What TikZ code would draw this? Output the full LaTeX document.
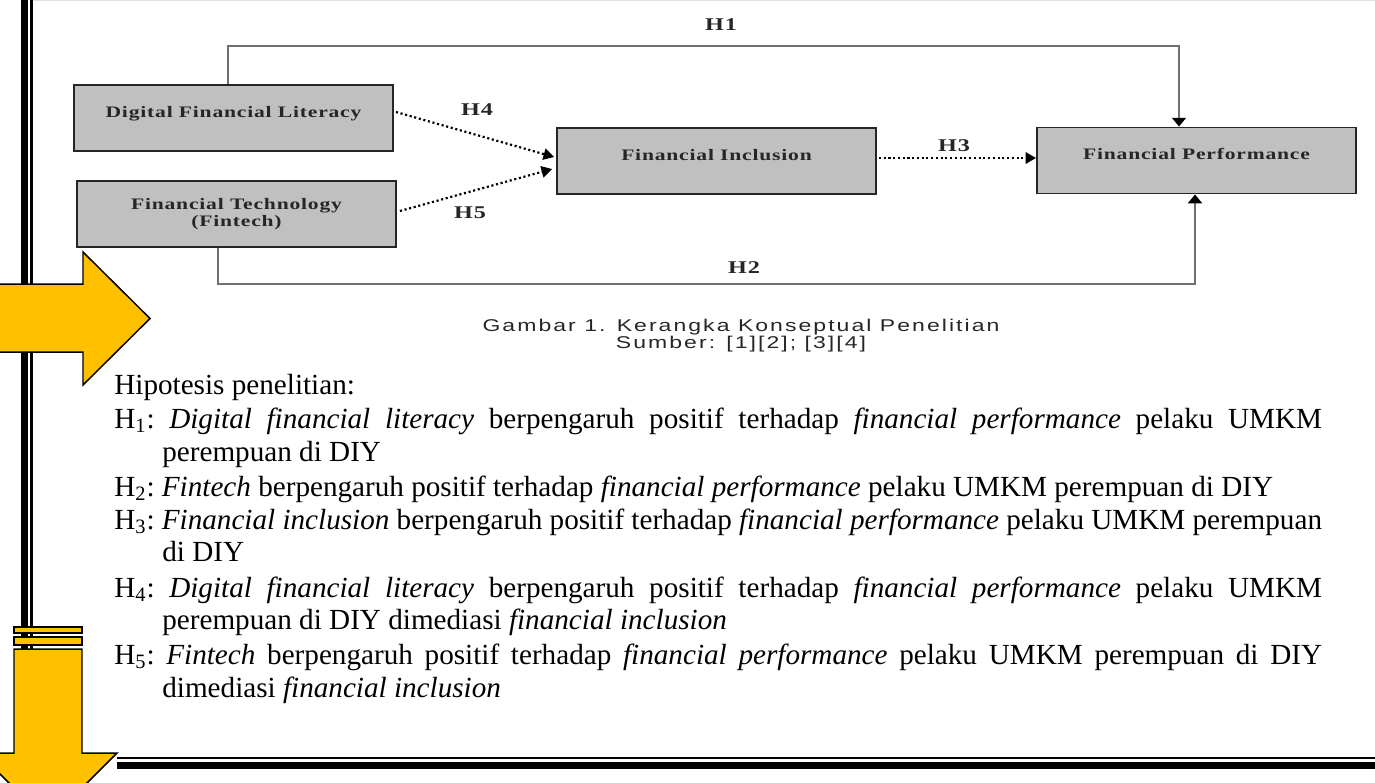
\documentclass[tikz,border=0pt]{standalone}
\usepackage{fontspec}
\setmainfont{Liberation Serif}
\newfontfamily\kotakfont[FakeStretch=1.35,LetterSpace=5]{Liberation Serif}
\newfontfamily\judulfont[FakeStretch=1.35,LetterSpace=12]{Liberation Sans}
\usetikzlibrary{arrows.meta,calc}

\definecolor{kuning}{HTML}{FFC000}
\definecolor{abu}{HTML}{C0C0C0}
\definecolor{garisabu}{HTML}{707070}
\definecolor{tinta}{HTML}{262626}

\newcommand{\lebar}{24.16cm}

\tikzset{
  kotak/.style={draw=tinta, line width=1.1pt, fill=abu, minimum width=6.38cm,
    minimum height=1.32cm, inner sep=0pt, align=center, text=tinta,
    font=\kotakfont\bfseries\fontsize{9.1}{9.8}\selectfont},
  satubaris/.style={text height=6.2pt, text depth=7pt},
  garis/.style={draw=garisabu, line width=0.75pt,
    -{Triangle[width=8pt,length=5pt,color=black]}},
  titik/.style={line width=1.25pt, dash pattern=on 1.2pt off 1.5pt,
    -{Triangle[width=6.5pt,length=6pt]}},
  lbl/.style={font=\kotakfont\bfseries\fontsize{10.2}{12}\selectfont,
    text=tinta, inner sep=0pt},
  judul/.style={font=\judulfont\fontsize{9.7}{9.7}\selectfont, text=tinta,
    align=center, inner sep=0pt},
  baris/.style={anchor=base west, inner sep=0pt,
    font=\fontsize{16.6}{20}\selectfont\frenchspacing},
  panahkuning/.style={fill=kuning, draw=black, line width=0.85pt}
}

\begin{document}
\begin{tikzpicture}[x=0.02cm, y=-0.02cm]
    % Slide frame
    \clip (0,0) rectangle (1375,782);
    \draw[gray!25, line width=0.6pt] (33,0.5) -- (1375,0.5);
    \draw[line width=4pt] (24.5,0) -- (24.5,649);
    \draw[line width=1.4pt] (31.5,0) -- (31.5,649);
    \draw[line width=1.4pt] (117,758) -- (1375,758);
    \draw[line width=4pt] (117,765.5) -- (1375,765.5);

    % Yellow arrows
    \draw[panahkuning] (-2,284) -- (83,284) -- (83,252) -- (150,318.5)
        -- (83,385) -- (83,352) -- (-2,352) -- cycle;
    \draw[panahkuning] (14,627) rectangle (82,633);
    \draw[panahkuning] (14,637) rectangle (82,645);
    \draw[panahkuning] (14,649) -- (82,649) -- (82,753) -- (117,753)
        -- (48,822) -- (-21,753) -- (14,753) -- cycle;

    % Boxes
    \node[kotak, satubaris] (dfl) at (233.5,118) {Digital Financial Literacy};
    \node[kotak] (ft) at (236.5,214) {Financial Technology\\(Fintech)};
    \node[kotak, satubaris] (fi) at (716.5,161) {Financial Inclusion};
    \node[kotak, satubaris] (fp) at (1196.5,160.5) {Financial Performance};

    % Direct paths
    \coordinate (h1kiri) at (228,46);
    \coordinate (h1kanan) at (1179,46);
    \coordinate (h2kiri) at (218,284);
    \coordinate (h2kanan) at (1195,284);
    \draw[garis] (dfl.north -| h1kiri) -- (h1kiri) -- (h1kanan) -- (fp.north -| h1kanan);
    \draw[garis] (ft.south -| h2kiri) -- (h2kiri) -- (h2kanan) -- (fp.south -| h2kanan);

    % Mediated paths
    \draw[titik] ($(dfl.east)+(2,-6)$) -- ($(fi.west)+(-2,-4)$);
    \draw[titik] ($(ft.east)+(3,-3)$) -- ($(fi.west)+(-4,8)$);
    \draw[titik] ($(fi.east)+(2,-3)$) -- ($(fp.west)+(0,-2.5)$);

    % Path labels
    \node[lbl] (lh1) at (721,25) {H1};
    \node[lbl] (lh2) at (744,268) {H2};
    \node[lbl] (lh3) at (954,146) {H3};
    \node[lbl] (lh4) at (477,110) {H4};
    \node[lbl] (lh5) at (470,213) {H5};

    % Caption
    \node[judul] (cap) at (741,336) {Gambar 1. Kerangka Konseptual Penelitian\\Sumber: [1][2]; [3][4]};

    % Hypotheses
    \node[baris] (hip) at (114,394) {Hipotesis penelitian:};
    \node[baris] (h1a) at (114,428) {\makebox[\lebar][s]{H\textsubscript{1}: \textit{Digital financial literacy} berpengaruh positif terhadap \textit{financial performance} pelaku UMKM}};
    \node[baris] (h1b) at (162,461) {perempuan di DIY};
    \node[baris] (h2a) at (114,496) {H\textsubscript{2}: \textit{Fintech} berpengaruh positif terhadap \textit{financial performance} pelaku UMKM perempuan di DIY};
    \node[baris] (h3a) at (114,529) {\makebox[\lebar][s]{H\textsubscript{3}: \textit{Financial inclusion} berpengaruh positif terhadap \textit{financial performance} pelaku UMKM perempuan}};
    \node[baris] (h3b) at (162,561) {di DIY};
    \node[baris] (h4a) at (114,597) {\makebox[\lebar][s]{H\textsubscript{4}: \textit{Digital financial literacy} berpengaruh positif terhadap \textit{financial performance} pelaku UMKM}};
    \node[baris] (h4b) at (162,629) {perempuan di DIY dimediasi \textit{financial inclusion}};
    \node[baris] (h5a) at (114,664) {\makebox[\lebar][s]{H\textsubscript{5}: \textit{Fintech} berpengaruh positif terhadap \textit{financial performance} pelaku UMKM perempuan di DIY}};
    \node[baris] (h5b) at (162,697) {dimediasi \textit{financial inclusion}};
\end{tikzpicture}
\end{document}
